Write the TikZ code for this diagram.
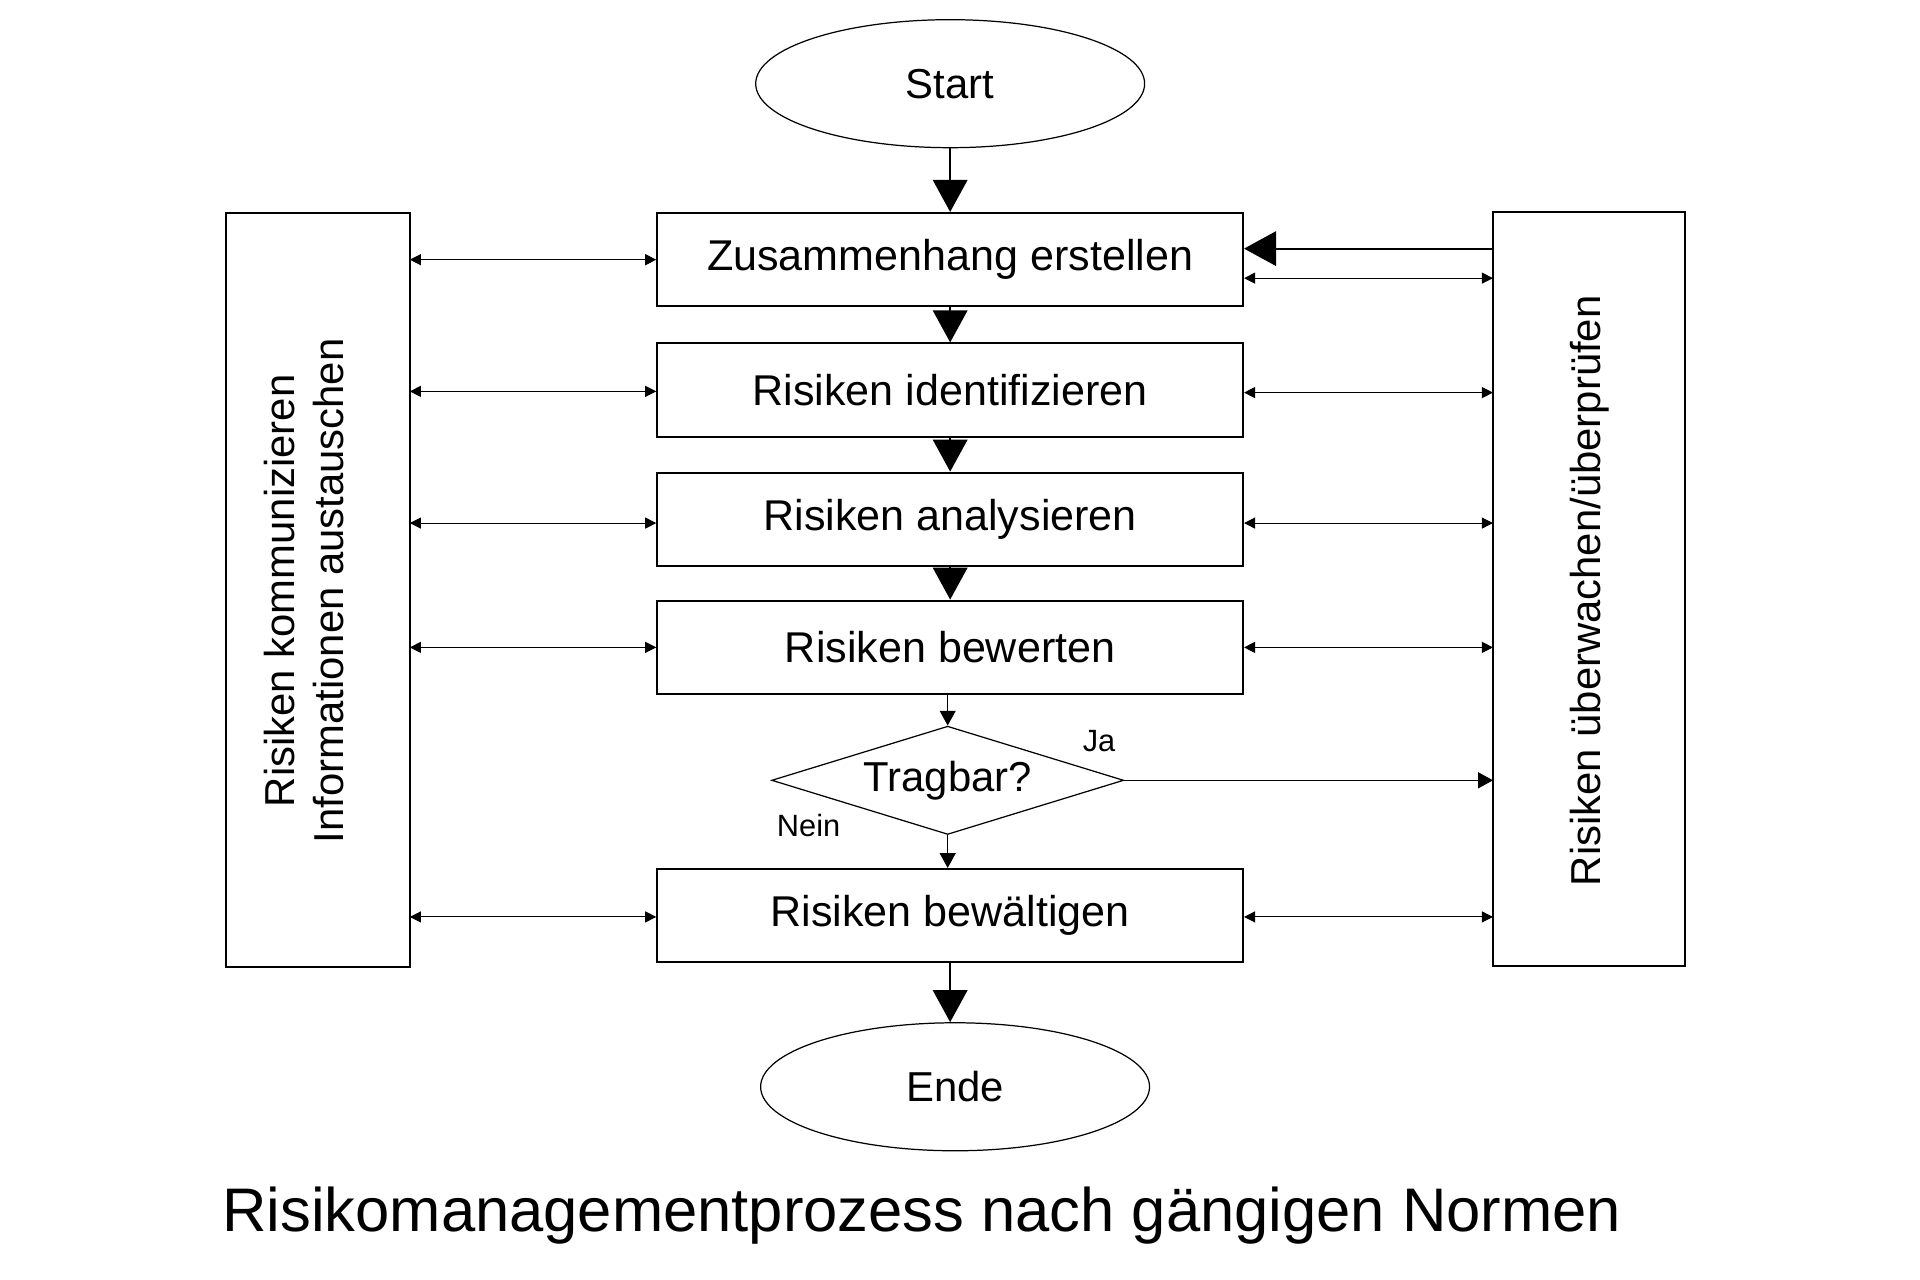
\documentclass[tikz,border=0pt]{standalone}
\usepackage{fontspec}
\setmainfont{Liberation Sans}
\usetikzlibrary{shapes.geometric,arrows.meta}
\begin{document}
\begin{tikzpicture}[x=1pt,y=-1pt,
  stepbox/.style={draw,line width=1.6pt,minimum width=476pt,minimum height=76pt,font=\fontsize{35}{40}\selectfont},
  oval/.style={draw,ellipse,line width=1pt,minimum width=316pt,minimum height=104pt,font=\fontsize{34}{38}\selectfont},
  side/.style={draw,line width=1.6pt},
  big/.style={line width=1.6pt,-{Triangle[length=26pt,width=28pt]}},
  thin/.style={line width=0.8pt,{Triangle[length=9pt,width=9pt]}-{Triangle[length=9pt,width=9pt]}},
  thinar/.style={line width=0.8pt,-{Triangle[length=12pt,width=13pt]}},
  lab/.style={font=\fontsize{25}{28}\selectfont}]
\useasboundingbox (0,0) rectangle (1560,1040);
\node[oval] (start) at (772,68) {Start};
\node[stepbox] (b1) at (772,211) {Zusammenhang erstellen};
\node[stepbox] (b2) at (772,317) {Risiken identifizieren};
\node[stepbox] (b3) at (772,422) {Risiken analysieren};
\node[stepbox] (b4) at (772,526) {Risiken bewerten};
\node[draw,diamond,aspect=3.25,line width=1pt,minimum width=286pt,minimum height=88pt,inner sep=0pt,font=\fontsize{34}{38}\selectfont] (d) at (770,634) {Tragbar?};
\node[stepbox] (b5) at (772,744) {Risiken bewältigen};
\node[oval] (ende) at (776,883) {Ende};
\draw[side] (184,173) rectangle (333,786);
\draw[side] (1213,172) rectangle (1369,785);
\node[rotate=90,align=center,font=\fontsize{34}{40}\selectfont] (lt) at (247,480) {Risiken kommunizieren\\Informationen austauschen};
\node[rotate=90,font=\fontsize{34}{38}\selectfont] (rt) at (1292,480) {Risiken überwachen/überprüfen};
\draw[big] (start) -- (b1);
\draw[big] (b1) -- (b2);
\draw[big] (b2) -- (b3);
\draw[big] (b3) -- (b4);
\draw[thinar] (b4.south -| d.north) -- (d.north);
\draw[thinar] (d.south) -- (d.south |- b5.north);
\draw[big] (b5.south) -- (b5.south |- ende.north);
\foreach \n/\y in {b1/211,b2/318,b3/425,b4/526,b5/745}{
  \draw[thin] (333,\y) -- (\n.west |- 0,\y);
}
\foreach \n/\y in {b1/226,b2/319,b3/425,b4/526,b5/745}{
  \draw[thin] (\n.east |- 0,\y) -- (1213,\y);
}
\draw[big] (1213,202) -- (b1.east |- 0,202);
\draw[thinar] (d.east) -- (1213,634);
\node[lab] (ja) at (893,602) {Ja};
\node[lab] (nein) at (657,671) {Nein};
\node[font=\fontsize{50}{56}\selectfont] (cap) at (749,988) {Risikomanagementprozess nach gängigen Normen};
\end{tikzpicture}
\end{document}
